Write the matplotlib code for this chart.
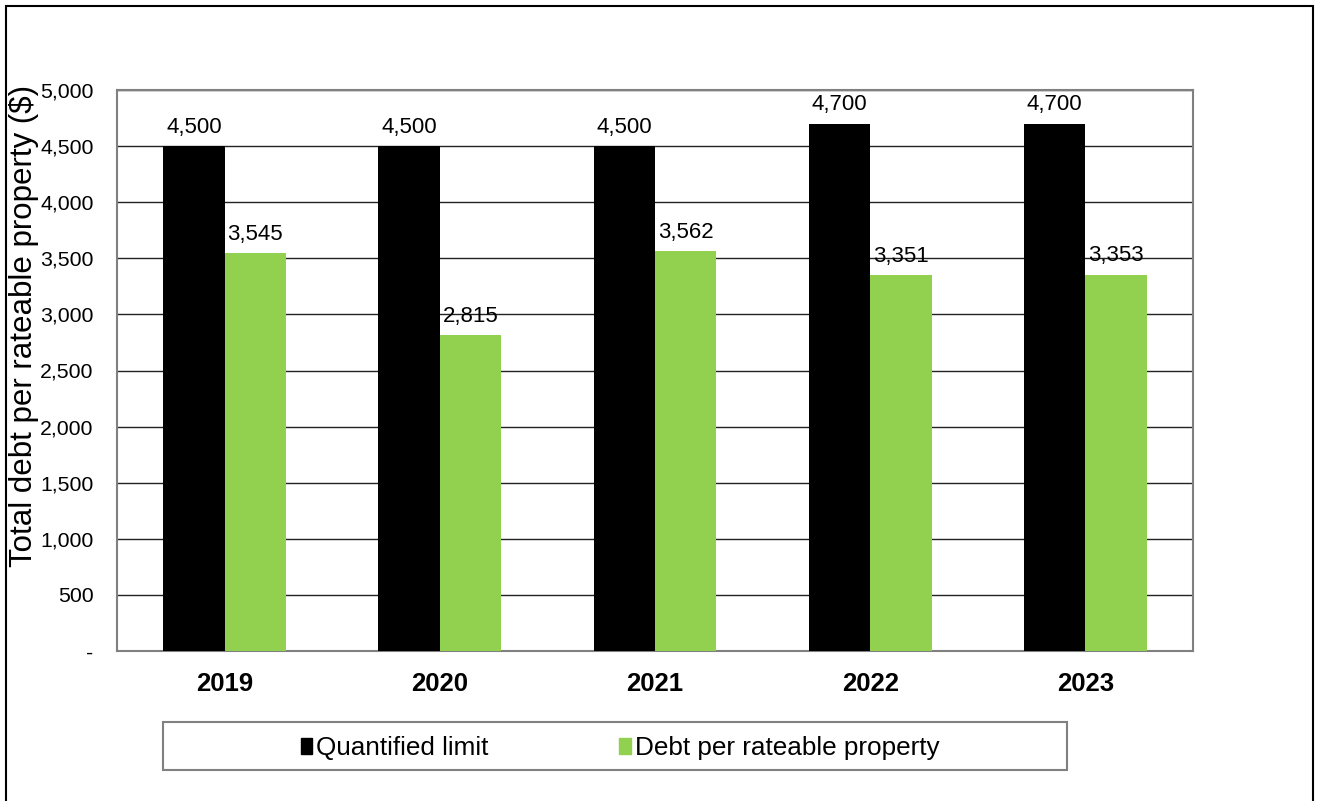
import matplotlib.pyplot as plt
from matplotlib.patches import Patch, Rectangle
import numpy as np

plt.rcParams['font.family'] = ['Liberation Sans', 'DejaVu Sans']

years = ["2019", "2020", "2021", "2022", "2023"]
limit = [4500, 4500, 4500, 4700, 4700]
debt = [3545, 2815, 3562, 3351, 3353]
yticks = [0, 500, 1000, 1500, 2000, 2500, 3000, 3500, 4000, 4500, 5000]

black = "#000000"
green = "#92d050"


def fmt(v):
    return "-" if v == 0 else f"{v:,}"


def main():
    fig = plt.figure(figsize=(13.18, 8.01), dpi=100)
    ax = fig.add_axes([117 / 1318, 1 - 651 / 801, 1076 / 1318, 561 / 801])

    x = np.arange(len(years))
    w = 0.285
    b1 = ax.bar(x - w / 2, limit, w, color=black, zorder=3, label="Quantified limit")
    b2 = ax.bar(x + w / 2, debt, w, color=green, zorder=3, label="Debt per rateable property")
    for bars, vals in ((b1, limit), (b2, debt)):
        for r, v in zip(bars, vals):
            ax.annotate(f"{v:,}", (r.get_x() + r.get_width() / 2, v),
                        xytext=(0, 6), textcoords="offset points",
                        ha="center", va="bottom", fontsize=16, zorder=4)

    ax.set_xlim(-0.5, len(years) - 0.5)
    ax.set_ylim(0, 5000)
    ax.set_yticks(yticks)
    ax.set_yticklabels([fmt(v) for v in yticks], fontsize=15.3)
    ax.set_xticks(x)
    ax.set_xticklabels(years, fontsize=18.5, fontweight="bold")
    ax.tick_params(axis="both", length=0)
    ax.tick_params(axis="y", pad=17)
    ax.tick_params(axis="x", pad=15)
    ax.yaxis.grid(True, color="#222222", linewidth=1.0, zorder=0)
    for s in ax.spines.values():
        s.set_color("#808080")
        s.set_linewidth(1.5)
    ax.set_ylabel("Total debt per rateable property ($)", fontsize=22.5)
    ax.yaxis.set_label_coords(-0.0725, 0.579)

    # outer chart border
    fig.patches.append(Rectangle((6 / 1318, -0.05), 1307 / 1318, 1 - 6 / 801 + 0.05,
                                 transform=fig.transFigure, fill=False,
                                 edgecolor="black", linewidth=1.5))
    # legend box
    fig.patches.append(Rectangle((163 / 1318, 1 - 770 / 801), 904 / 1318, 48 / 801,
                                 transform=fig.transFigure, fill=False,
                                 edgecolor="#808080", linewidth=1.5))
    handles = [Patch(color=black), Patch(color=green)]
    fig.legend(handles, ["Quantified limit", "Debt per rateable property"],
               loc="center", bbox_to_anchor=(620 / 1318, 1 - 748 / 801),
               ncol=2, frameon=False, fontsize=18.8,
               handlelength=0.45, handleheight=0.55, handletextpad=0.15,
               columnspacing=5.0)

    fig.savefig("out.png", dpi=100)


if __name__ == "__main__":
    main()
